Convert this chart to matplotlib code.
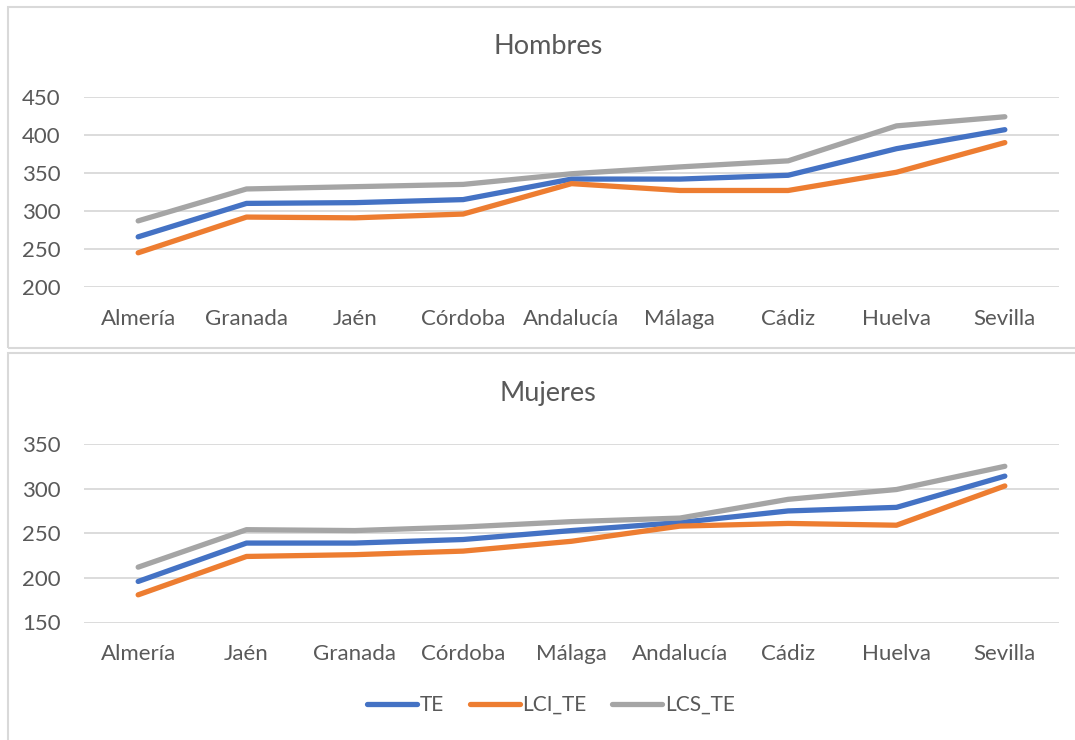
import matplotlib
matplotlib.use("Agg")
import matplotlib.pyplot as plt
from matplotlib.patches import Rectangle
from matplotlib.lines import Line2D

plt.rcParams['font.family'] = ['Lato', 'DejaVu Sans']

# Hombres
cats_h = ["Almería", "Granada", "Jaén", "Córdoba", "Andalucía", "Málaga", "Cádiz", "Huelva", "Sevilla"]
te_h = [266, 310, 311, 315, 342, 342, 347, 382, 407]
lci_h = [245, 292, 291, 296, 336, 327, 327, 351, 390]
lcs_h = [287, 329, 332, 335, 349, 358, 366, 412, 424]

# Mujeres
cats_m = ["Almería", "Jaén", "Granada", "Córdoba", "Málaga", "Andalucía", "Cádiz", "Huelva", "Sevilla"]
te_m = [196, 239, 239, 243, 253, 262, 275, 279, 314]
lci_m = [181, 224, 226, 230, 241, 258, 261, 259, 303]
lcs_m = [212, 254, 253, 257, 263, 267, 288, 299, 325]

series_names = ["TE", "LCI_TE", "LCS_TE"]
colors = ["#4472C4", "#ED7D31", "#A5A5A5"]

W, H = 1075, 740
fig = plt.figure(figsize=(W / 100, H / 100), dpi=100)

def px_ax(left, top, right, bottom):
    return fig.add_axes([left / W, 1 - bottom / H, (right - left) / W, (bottom - top) / H])

# panel borders
fig.patches.append(Rectangle((8 / W, 1 - 348 / H), 1.2, (348 - 7) / H, transform=fig.transFigure,
                             fill=False, edgecolor="#d9d9d9", linewidth=1.5, zorder=0))
fig.patches.append(Rectangle((8 / W, -0.2), 1.2, (0.2 + 1 - 353 / H), transform=fig.transFigure,
                             fill=False, edgecolor="#d9d9d9", linewidth=1.5, zorder=0))

LS = 16

def draw(ax, cats, data, ylim, step, title, title_y):
    x = list(range(len(cats)))
    for vals, c, n in zip(data, colors, series_names):
        ax.plot(x, vals, color=c, linewidth=3.8, solid_capstyle="round", solid_joinstyle="round", label=n, zorder=3)
    ax.set_xlim(-0.5, len(cats) - 0.5)
    ax.set_ylim(*ylim)
    ax.set_yticks(list(range(ylim[0], ylim[1] + 1, step)))
    ax.set_xticks(x)
    ax.set_xticklabels(cats)
    ax.grid(axis="y", color="#d9d9d9", linewidth=1.3, zorder=0)
    ax.set_axisbelow(True)
    for s in ax.spines.values():
        s.set_visible(False)
    ax.tick_params(axis="both", length=0, labelsize=LS, colors="#595959")
    ax.tick_params(axis="y", pad=17)
    ax.tick_params(axis="x", pad=15.5)
    fig.text(548 / W, 1 - title_y / H, title, ha="center", va="center", fontsize=19.5, color="#595959")

ax1 = px_ax(84, 97, 1059, 287)
draw(ax1, cats_h, [te_h, lci_h, lcs_h], (200, 450), 50, "Hombres", 47)

ax2 = px_ax(84, 444, 1059, 622.5)
draw(ax2, cats_m, [te_m, lci_m, lcs_m], (150, 350), 50, "Mujeres", 393)

handles = [Line2D([], [], color=c, linewidth=3.8, solid_capstyle="round") for c in colors]
fig.legend(handles, series_names, loc="center", bbox_to_anchor=(551 / W, 1 - 705 / H), ncol=3,
           frameon=False, fontsize=15, labelcolor="#595959", handlelength=2.4, handletextpad=0.15,
           columnspacing=1.2)

fig.savefig("out.png", dpi=100)
